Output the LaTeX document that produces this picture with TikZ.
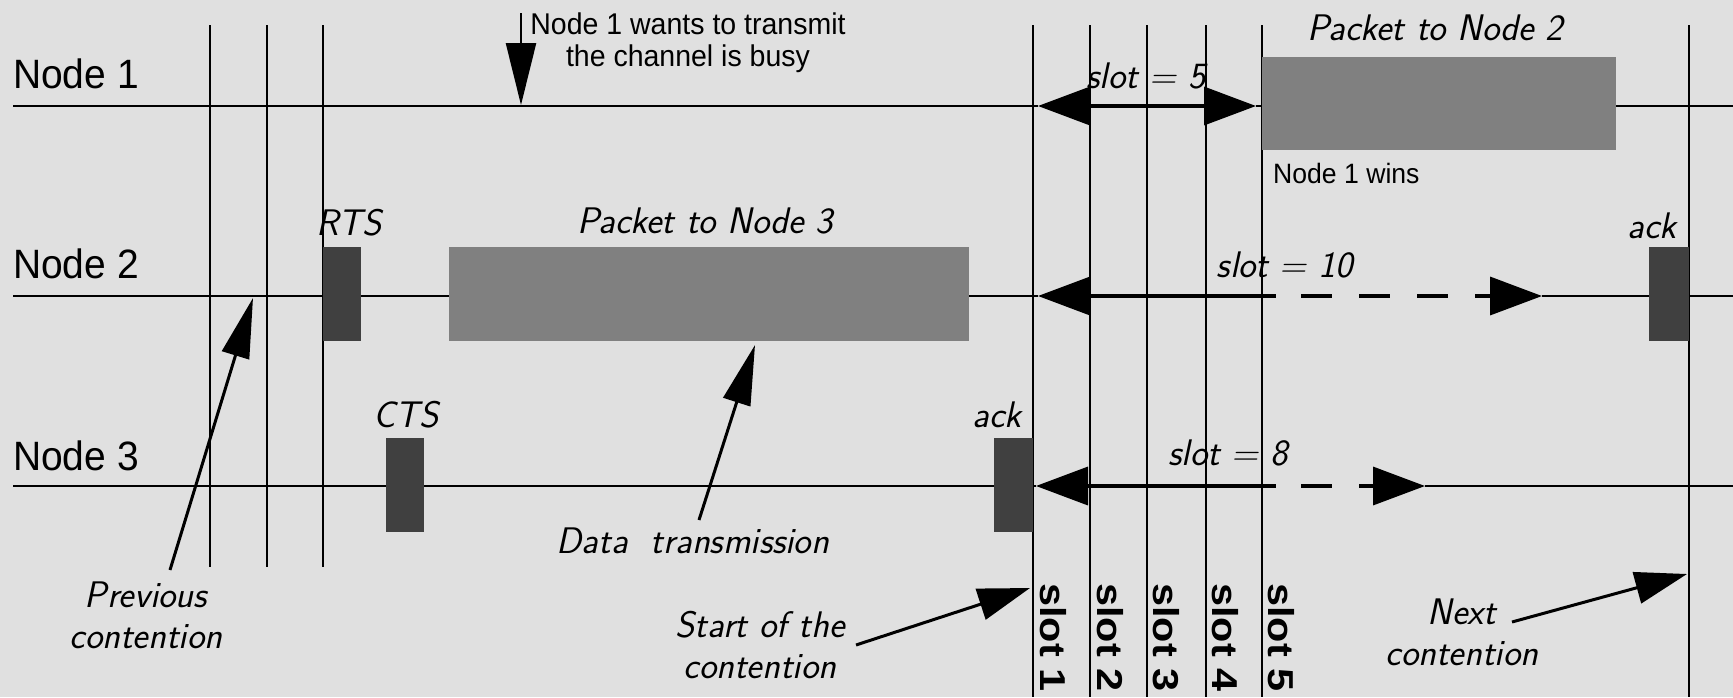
\documentclass[tikz,border=0pt]{standalone}
\usepackage{fontspec}
\newfontfamily\hv{Liberation Sans}[FakeStretch=0.95]
\newfontfamily\hvw{Liberation Sans}[FakeStretch=1.15]
\usetikzlibrary{arrows.meta}
\definecolor{bg}{RGB}{224,224,224}
\definecolor{pkt}{RGB}{128,128,128}
\definecolor{ctl}{RGB}{64,64,64}
\begin{document}
\begin{tikzpicture}[x=1pt,y=-1pt,
  tl/.style={line width=1.6pt},
  vl/.style={line width=1.4pt},
  ba/.style={line width=3.5pt},
  annot/.style={line width=3pt},
  bigtip/.tip={Triangle[length=52pt,width=38pt]},
  mtip/.tip={Triangle[length=60pt,width=28pt]},
  pktbox/.style={fill=pkt,draw=none,inner sep=0pt},
  ctlbox/.style={fill=ctl,draw=none,inner sep=0pt,minimum width=38pt,minimum height=94pt},
  rowlab/.style={font=\hv\fontsize{41}{46}\selectfont,anchor=base west,inner sep=0pt},
  lab/.style={font=\sffamily\itshape\fontsize{37}{41}\selectfont,anchor=base,inner sep=0pt,align=center},
  slotlab/.style={font=\hvw\bfseries\fontsize{36}{40}\selectfont,rotate=-90,anchor=base west,inner sep=0pt},
  note/.style={font=\hv\fontsize{30}{32}\selectfont,inner sep=0pt,align=center}
]
\useasboundingbox (0,0) rectangle (1733,697);
\fill[bg] (0,0) rectangle (1733,697);

% vertical lines
\foreach \x in {210,267,323} \draw[vl] (\x,25) -- (\x,567);
\foreach \x in {1033,1090,1147,1206,1262,1689} \draw[vl] (\x,25) -- (\x,697);

% row coordinates
\coordinate (n1s) at (13,106);  \coordinate (n1l) at (1038,106);
\coordinate (n1r) at (1256,106); \coordinate (n1e) at (1733,106);
\coordinate (n2s) at (13,296);  \coordinate (n2l) at (1038,296);
\coordinate (n2m) at (1276,296); \coordinate (n2r) at (1542,296);
\coordinate (n2e) at (1733,296);
\coordinate (n3s) at (13,486);  \coordinate (n3l) at (1036,486);
\coordinate (n3m) at (1276,486); \coordinate (n3r) at (1425,486);
\coordinate (n3e) at (1733,486);

% thin time lines
\draw[tl] (n1s) -- (n1l);
\draw[tl] (n1r) -- (n1e);
\draw[tl] (n2s) -- (n2l);
\draw[tl] (n2r) -- (n2e);
\draw[tl] (n3s) -- (n3l);
\draw[tl] (n3r) -- (n3e);

% backoff arrows
\draw[ba,{bigtip}-{bigtip}] (n1l) -- (n1r);
\draw[ba,{bigtip}-] (n2l) -- (n2m);
\draw[ba,-{bigtip},dash pattern=on 31pt off 27pt,dash phase=33pt] (n2m) -- (n2r);
\draw[ba,{bigtip}-] (n3l) -- (n3m);
\draw[ba,-{bigtip},dash pattern=on 31pt off 27pt,dash phase=33pt] (n3m) -- (n3r);

% boxes
\node[ctlbox] (rts) at (342,294) {};
\node[pktbox,minimum width=520pt,minimum height=94pt] (p3) at (709,294) {};
\node[ctlbox] (cts) at (405,485) {};
\node[ctlbox,minimum width=39pt] (ack3) at (1013.5,485) {};
\node[pktbox,minimum width=354pt,minimum height=93pt] (p2) at (1439,103.5) {};
\node[ctlbox,minimum width=40pt] (ack2) at (1669,294) {};

% row labels
\node[rowlab] (l1) at (13,88) {Node 1};
\node[rowlab] (l2) at (13,278) {Node 2};
\node[rowlab] (l3) at (13,470) {Node 3};

% italic labels
\node[lab] (trts) at (349,235) {RTS};
\node[lab] (tcts) at (406,427) {CTS};
\node[lab] (tp3) at (705,233) {Packet to Node 3};
\node[lab] (tp2) at (1435,40) {Packet to Node 2};
\node[lab] (tack3) at (997,427) {ack};
\node[lab] (tack2) at (1652,238) {ack};
\node[lab] (ts5) at (1146,88) {slot = 5};
\node[lab] (ts10) at (1285,277) {slot = 10};
\node[lab] (ts8) at (1228,465) {slot = 8};
\node[lab] (tdata) at (693,553) {Data\ \ transmission};
\node[lab] (tprev) at (146,648) {Previous\\contention};
\node[lab] (tstart) at (760,678) {Start of the\\contention};
\node[lab] (tnext) at (1462,665) {Next\\contention};

% notes
\node[note,anchor=north] (want) at (688,13) {Node 1 wants to transmit\\the channel is busy};
\node[font=\hv\fontsize{28}{32}\selectfont,anchor=base west,inner sep=0pt] (wins) at (1273,183) {Node 1 wins};

% slot labels
\node[slotlab] (s1) at (1040,583) {slot 1};
\node[slotlab] (s2) at (1097,583) {slot 2};
\node[slotlab] (s3) at (1153,583) {slot 3};
\node[slotlab] (s4) at (1212,583) {slot 4};
\node[slotlab] (s5) at (1268,583) {slot 5};

% annotation arrows
\coordinate (wa) at (521,13);   \coordinate (wb) at (521,105);
\coordinate (pa) at (170,570);  \coordinate (pb) at (253,298);
\coordinate (da) at (699,520);  \coordinate (db) at (755,345);
\coordinate (sa) at (856,645);  \coordinate (sb) at (1030,588);
\coordinate (xa) at (1512,622); \coordinate (xb) at (1687,574);
\draw[line width=2.5pt,-{Triangle[length=62pt,width=30pt]}] (wa) -- (wb);
\draw[annot,-{mtip}] (pa) -- (pb);
\draw[annot,-{mtip}] (da) -- (db);
\draw[annot,-{Triangle[length=52pt,width=32pt]}] (sa) -- (sb);
\draw[annot,-{Triangle[length=52pt,width=32pt]}] (xa) -- (xb);
\end{tikzpicture}
\end{document}
